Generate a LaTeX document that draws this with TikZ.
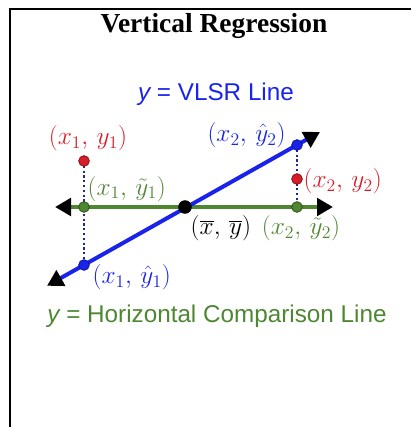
\RequirePackage{fix-cm}
\documentclass[tikz,border=0pt]{standalone}
\usepackage{fontspec}
\setmainfont{Liberation Serif}
\newfontfamily\arialfont{Liberation Sans}
\usetikzlibrary{positioning,arrows.meta}
\definecolor{vblue}{RGB}{25,35,235}
\definecolor{hgreen}{RGB}{78,135,50}
\definecolor{pred}{RGB}{215,30,40}
\definecolor{dotblue}{RGB}{30,40,150}

\begin{document}
\begin{tikzpicture}[x=0.75pt,y=-0.75pt,
    pt/.style={circle, draw, line width=0.6pt, inner sep=0pt, minimum size=8pt},
    lbl/.style={inner sep=0pt, font=\fontsize{19}{22}\selectfont},
    caption/.style={inner sep=0pt, font=\arialfont\fontsize{18.2}{21}\selectfont},
    twoway/.style={line width=3pt, arrows={Triangle[length=12pt,width=13pt,color=black]-Triangle[length=12pt,width=13pt,color=black]}},
    drop/.style={dotblue, dotted, line width=1.6pt}
]
\useasboundingbox (0,0) rectangle (411,427);

% frame
\draw[line width=1.5pt] (9.5,427) -- (9.5,9.5) -- (411,9.5);

\node[inner sep=0pt, font=\bfseries\fontsize{20.6}{24}\selectfont] (title) at (214,26) {Vertical Regression};
\node[caption, text=vblue] (vlsr) at (216,94) {{\itshape y} = VLSR Line};
\node[caption, text=hgreen] (hcl) at (217,316) {{\itshape y} = Horizontal Comparison Line};

% line ends
\coordinate (bl) at (47,285.8);
\coordinate (tr) at (320,132);
\coordinate (hl) at (55,207);
\coordinate (hr) at (333,207);

% points
\coordinate (r1c) at (84,161);
\coordinate (g1c) at (84,207);
\coordinate (b1c) at (84,265);
\coordinate (b2c) at (297,145);
\coordinate (r2c) at (297,179);
\coordinate (g2c) at (297,207);

\draw[drop] (r1c) -- (b1c);
\draw[drop] (b2c) -- (g2c);

\draw[twoway, hgreen] (hl) -- (hr);
\draw[twoway, vblue] (bl) -- (tr);

\node[pt, fill=pred, draw=pred!60!black] (r1) at (r1c) {};
\node[pt, fill=hgreen, draw=hgreen!60!black] (g1) at (g1c) {};
\node[pt, fill=vblue, draw=vblue!60!black] (b1) at (b1c) {};
\node[pt, fill=vblue, draw=vblue!60!black] (b2) at (b2c) {};
\node[pt, fill=pred, draw=pred!60!black] (r2) at (r2c) {};
\node[pt, fill=hgreen, draw=hgreen!60!black] (g2) at (g2c) {};
\node[pt, fill=black, minimum size=9.5pt] (m) at (185,207) {};

% labels
\node[lbl, text=pred, above=3pt of r1, xshift=3pt] (r1l) {$(x_1,\,y_1)$};
\node[lbl, text=vblue, left=4pt of b2, yshift=7.5pt] (b2l) {$(x_2,\,\hat{y}_2)$};
\node[lbl, text=pred, right=0.5pt of r2, yshift=-1.5pt] (r2l) {$(x_2,\,y_2)$};
\node[lbl, text=hgreen, above right=1pt and -0.5pt of g1] (g1l) {$(x_1,\,\tilde{y}_1)$};
\node[lbl, text=black, below right=2.5pt and 0.5pt of m] (ml) {$(\overline{x},\,\overline{y})$};
\node[lbl, text=hgreen, below=2pt of g2, xshift=3pt] (g2l) {$(x_2,\,\tilde{y}_2)$};
\node[lbl, text=vblue, right=2pt of b1, yshift=-9.4pt] (b1l) {$(x_1,\,\hat{y}_1)$};

\end{tikzpicture}
\end{document}
